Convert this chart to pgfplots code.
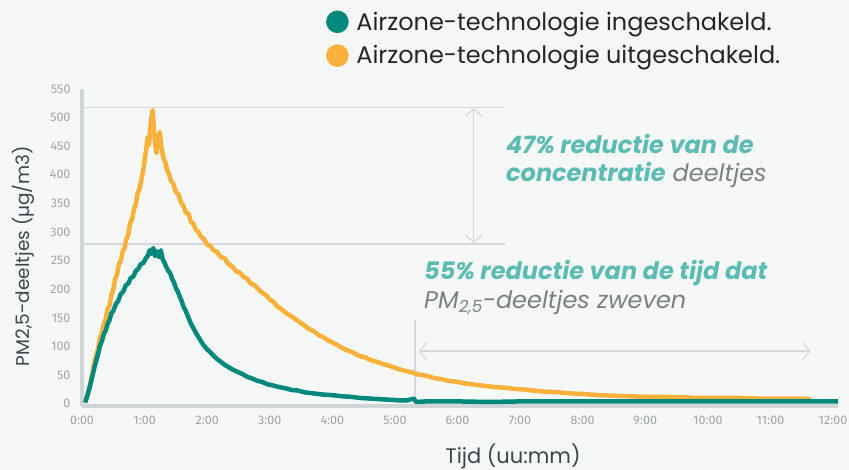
\documentclass[border=0pt]{standalone}
\usepackage{fontspec}
\setmainfont{Poppins}
\newfontfamily\tickfont{Fira Sans}
\usepackage{pgfplots}
\pgfplotsset{compat=1.18}
\usetikzlibrary{arrows.meta}
\definecolor{tealc}{HTML}{00897B}
\definecolor{orangec}{HTML}{FBB13C}
\definecolor{bgc}{HTML}{F6F8F8}
\definecolor{refc}{HTML}{D3D9DB}
\definecolor{axc}{HTML}{D0D6D8}
\definecolor{tickc}{HTML}{9FA4A6}
\definecolor{labc}{HTML}{3A474C}
\definecolor{annt}{HTML}{5CBCB1}
\definecolor{anng}{HTML}{7B8183}
\pgfplotstableread{
t v
0.05 2
0.08 12
0.11 24
0.14 40
0.17 55
0.20 74
0.23 86
0.26 98
0.29 116
0.32 124
0.35 140
0.38 148
0.41 166
0.44 172
0.47 190
0.50 200
0.53 218
0.56 226
0.59 244
0.62 250
0.65 266
0.68 272
0.71 288
0.74 296
0.77 316
0.80 322
0.83 340
0.86 348
0.89 368
0.92 376
0.95 392
0.98 410
1.01 432
1.03 448
1.05 466
1.07 452
1.09 478
1.11 500
1.13 513
1.15 478
1.17 452
1.19 438
1.21 456
1.24 475
1.27 448
1.30 430
1.33 422
1.36 408
1.39 402
1.42 390
1.46 384
1.50 370
1.54 366
1.58 352
1.62 346
1.66 334
1.70 332
1.74 318
1.78 314
1.82 304
1.86 300
1.90 292
1.95 288
2.00 278
2.05 276
2.10 268
2.16 265
2.22 256
2.28 254
2.34 244
2.40 240
2.46 232
2.52 229
2.58 222
2.64 218
2.70 210
2.76 207
2.82 200
2.88 194
2.94 190
3.00 182
3.06 178
3.12 170
3.18 166
3.24 160
3.30 156
3.38 150
3.46 144
3.54 138
3.62 131
3.70 127
3.78 120
3.86 116
3.94 110
4.02 106
4.12 100
4.22 94
4.32 90
4.42 84
4.52 81
4.62 76
4.72 73
4.82 69
4.92 66
5.02 62
5.14 58
5.26 55
5.38 51
5.50 49
5.62 45
5.74 43
5.86 40
6.00 38
6.15 35
6.30 33
6.45 31
6.60 29
6.75 28
6.90 26
7.05 25
7.20 23
7.40 21
7.60 20
7.80 18
8.00 17
8.25 15
8.50 14
8.75 13
9.00 12
9.30 12
9.60 11
9.90 10
10.2 10
10.5 10
10.8 9
11.1 9
11.4 9
11.65 8
}\offdata
\pgfplotstableread{
t v
0.05 2
0.08 12
0.11 24
0.14 36
0.17 50
0.20 64
0.23 76
0.26 88
0.29 102
0.32 110
0.35 122
0.38 128
0.41 140
0.44 146
0.47 158
0.50 162
0.54 174
0.58 180
0.62 192
0.66 196
0.70 207
0.74 210
0.78 220
0.82 222
0.86 232
0.90 236
0.94 244
0.98 246
1.02 254
1.05 258
1.08 268
1.11 262
1.14 272
1.17 258
1.20 266
1.23 256
1.26 268
1.29 252
1.32 246
1.35 238
1.38 232
1.41 228
1.44 218
1.47 212
1.50 202
1.53 196
1.56 188
1.59 180
1.62 170
1.65 164
1.68 156
1.71 148
1.74 140
1.77 134
1.80 128
1.84 120
1.88 113
1.92 106
1.96 100
2.00 95
2.05 90
2.10 84
2.16 78
2.22 73
2.28 68
2.34 64
2.40 60
2.48 56
2.56 52
2.64 47
2.72 44
2.80 40
2.88 38
2.96 34
3.05 32
3.15 29
3.25 27
3.35 24
3.45 23
3.55 20
3.70 18
3.85 16
4.00 15
4.15 13
4.30 12
4.45 10
4.60 9
4.75 8
4.90 7
5.05 6
5.20 6
5.30 9
5.34 3
5.5 4
6.0 4
6.5 3
7.0 4
7.5 4
8.0 4
9.0 4
10.0 4
11.0 4
12.08 4
}\ondata
\begin{document}
\begin{tikzpicture}[x=1pt,y=1pt]
\fill[bgc] (0,0) rectangle (849,470);
\path[use as bounding box] (0,0) rectangle (849,470);
\begin{axis}[
  at={(82pt,64pt)}, anchor=south west,
  scale only axis, width=756pt, height=317pt,
  xmin=0, xmax=12.08, ymin=-4, ymax=550,
  axis x line=bottom, axis y line=left,
  axis line style={draw=axc, line width=3.5pt, -},
  xtick={0,1,...,12},
  xticklabels={0:00,1:00,2:00,3:00,4:00,5:00,6:00,7:00,8:00,9:00,10:00,11:00,12:00},
  ytick={0,50,...,550},
  major tick length=0pt,
  /pgf/number format/assume math mode=true,
  xticklabel style={font=\tickfont\fontsize{12.5}{14}\selectfont, text=tickc, yshift=-6pt},
  yticklabel style={font=\tickfont\fontsize{12.5}{14}\selectfont, text=tickc, xshift=-8pt},
  clip=false,
  reverse legend,
  legend style={draw=none, fill=none, at={(axis cs:3.85,692)}, anchor=north west,
    font=\fontsize{24}{28}\selectfont, row sep=10pt, text=black!85},
  legend cell align=left,
  legend image code/.code={\fill (0pt,0pt) circle (9pt); \path[draw=none] (-9pt,0pt) -- (17pt,0pt);},
]
\draw[refc, line width=1.2pt] (axis cs:0,518) -- (axis cs:6.76,518);
\draw[refc, line width=1.2pt] (axis cs:0,279) -- (axis cs:6.76,279);
\draw[refc, line width=1.2pt, {Straight Barb[length=7pt,width=17pt]}-{Straight Barb[length=7pt,width=17pt]}] (axis cs:6.26,516) -- (axis cs:6.26,281);
\draw[refc, line width=1.2pt] (axis cs:5.32,147) -- (axis cs:5.32,0);
\draw[refc, line width=1.2pt, {Straight Barb[length=7pt,width=17pt]}-{Straight Barb[length=7pt,width=17pt]}] (axis cs:5.38,92) -- (axis cs:11.64,92);
\addplot[orangec, line width=4.5pt, line join=round] table[x=t,y=v] {\offdata};
\addlegendentry{Airzone-technologie uitgeschakeld.}
\addplot[tealc, line width=4.5pt, line join=round] table[x=t,y=v] {\ondata};
\addlegendentry{Airzone-technologie ingeschakeld.}
\end{axis}
\node[rotate=90, text=labc, font=\fontsize{18.5}{22}\selectfont] at (23,214) {PM2,5-deeltjes (µg/m3)};
\node[anchor=base, text=labc, font=\fontsize{21}{25}\selectfont] at (513,6.5) {Tijd (uu:mm)};
\begin{scope}[font=\fontsize{24}{28}\selectfont\itshape]
\node[anchor=base west, inner sep=0pt, text=annt] at (506,316.5) {\bfseries 47\% reductie van de};
\node[anchor=base west, inner sep=0pt] at (506,288.5) {\textcolor{annt}{\bfseries concentratie} \textcolor{anng}{deeltjes}};
\node[anchor=base west, inner sep=0pt, text=annt] at (424,190.5) {\bfseries 55\% reductie van de tijd dat};
\node[anchor=base west, inner sep=0pt, text=anng] at (424,161.5) {PM\textsubscript{2,5}-deeltjes zweven};
\end{scope}
\end{tikzpicture}
\end{document}
